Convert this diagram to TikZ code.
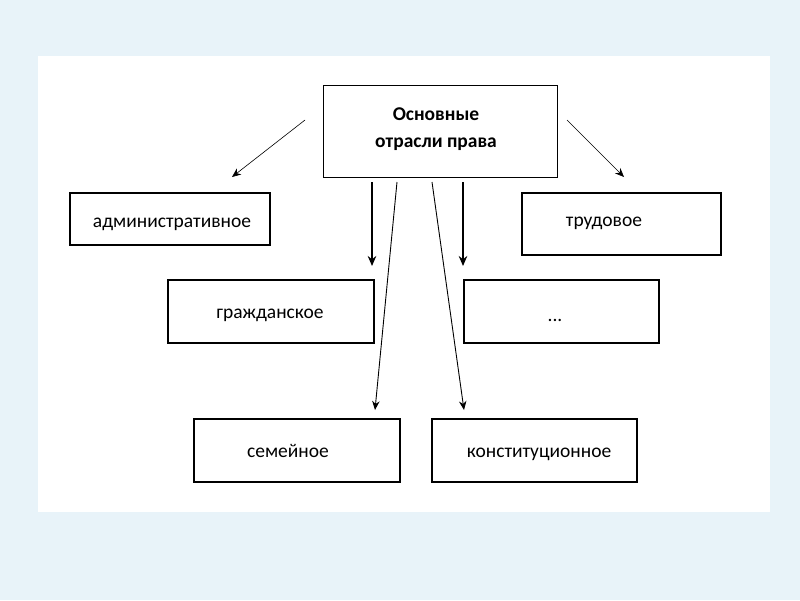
\documentclass[tikz,border=0pt]{standalone}
\usepackage{fontspec}
\setmainfont{Carlito}
\usetikzlibrary{arrows.meta}
\definecolor{bgblue}{HTML}{E8F3F9}
\begin{document}
\begin{tikzpicture}[x=1pt,y=-1pt,
  frame/.style={draw=black, line width=1.3pt},
  lbl/.style={anchor=base, inner sep=0pt, font=\fontsize{19.5}{22}\selectfont},
  thinarrow/.style={-{Stealth[length=9pt,width=7.5pt]}, line width=0.6pt},
  thickarrow/.style={-{Stealth[length=10pt,width=8.5pt]}, line width=1.8pt}]
\fill[bgblue] (0,0) rectangle (800,600);
\fill[white] (38,56) rectangle (770,512);
\useasboundingbox (0,0) rectangle (800,600);
% boxes
\draw[frame, line width=1pt] (323,85) rectangle (557,177);
\node[lbl, font=\fontsize{19.5}{22}\selectfont\bfseries] (top1) at (436,120) {Основные};
\node[lbl, font=\fontsize{19.5}{22}\selectfont\bfseries] (top2) at (436,147) {отрасли права};
\draw[frame] (70,193) rectangle (270,245);
\node[lbl] (adm) at (172,227) {административное};
\draw[frame] (522,193) rectangle (721,255);
\node[lbl] (trud) at (604,226) {трудовое};
\draw[frame] (168,280) rectangle (374,343);
\node[lbl] (grazh) at (270,318) {гражданское};
\draw[frame] (464,280) rectangle (659,343);
\node[lbl] (dots) at (555,321) {...};
\draw[frame] (194,419) rectangle (400,482);
\node[lbl] (sem) at (288,457) {семейное};
\draw[frame] (432,419) rectangle (637,482);
\node[lbl] (konst) at (539,457) {конституционное};
% arrows
\coordinate (a1s) at (305,120); \coordinate (a1e) at (232,177);
\coordinate (a2s) at (567,120); \coordinate (a2e) at (624,177);
\coordinate (a3s) at (372,182); \coordinate (a3e) at (372,266);
\coordinate (a4s) at (463,182); \coordinate (a4e) at (463,266);
\coordinate (a5s) at (397,182); \coordinate (a5e) at (375,410);
\coordinate (a6s) at (432,182); \coordinate (a6e) at (464,410);
\draw[thinarrow] (a1s) -- (a1e);
\draw[thinarrow] (a2s) -- (a2e);
\draw[thickarrow] (a3s) -- (a3e);
\draw[thickarrow] (a4s) -- (a4e);
\draw[thinarrow, line width=0.9pt] (a5s) -- (a5e);
\draw[thinarrow, line width=0.9pt] (a6s) -- (a6e);
\end{tikzpicture}
\end{document}
